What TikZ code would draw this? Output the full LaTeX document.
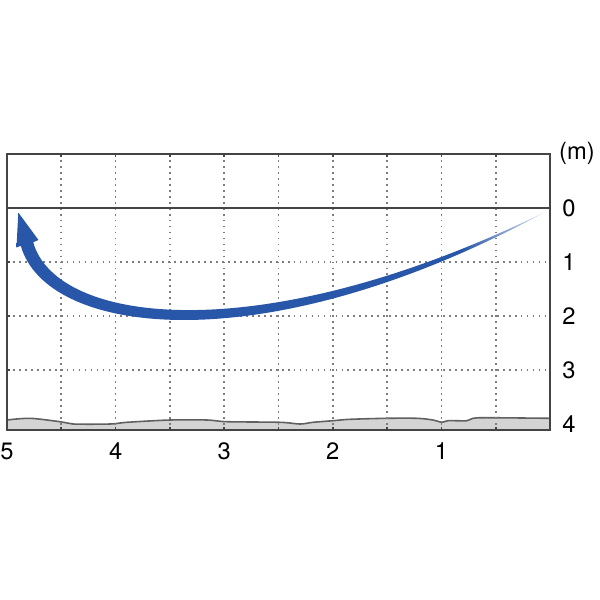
\documentclass[tikz,border=0pt]{standalone}
\usepackage{fontspec}
\setmainfont{TeX Gyre Heros}
\definecolor{ArrowBlue}{RGB}{40,86,168}
\definecolor{GroundGray}{RGB}{212,212,212}
\definecolor{FrameGray}{RGB}{68,68,68}
\definecolor{GridGray}{RGB}{125,125,125}
\pgfdeclarehorizontalshading{TailFade}{100bp}{color(0bp)=(ArrowBlue); color(67bp)=(ArrowBlue); color(75bp)=(ArrowBlue!12); color(100bp)=(ArrowBlue!12)}

\begin{document}
\begin{tikzpicture}[x=0.02cm,y=-0.02cm,
  gridline/.style={GridGray,line width=1pt,dash pattern=on 1pt off 2.4pt},
  scalelabel/.style={font=\fontsize{13.5}{16}\selectfont,inner sep=0pt}]
  \useasboundingbox (0,0) rectangle (600,600);
  % sea bed
  \fill[GroundGray] (7,430) -- plot[smooth] coordinates {(7,420) (30,418.3) (60,421.7) (73,424) (110,424) (127,422.3) (170,420) (207,420) (227,421.7) (280,422.3) (300,424) (313,422.3) (333,420.7) (350,419.3) (387,418.3) (417,418.3) (433,420) (442,422.3) (448,420.7) (467,420.7) (473,418.3) (487,417.7) (550,418.3)} -- (550,430) -- cycle;
  \draw[FrameGray!85,line width=0.9pt] plot[smooth] coordinates {(7,420) (30,418.3) (60,421.7) (73,424) (110,424) (127,422.3) (170,420) (207,420) (227,421.7) (280,422.3) (300,424) (313,422.3) (333,420.7) (350,419.3) (387,418.3) (417,418.3) (433,420) (442,422.3) (448,420.7) (467,420.7) (473,418.3) (487,417.7) (550,418.3)};
  % grid
  \foreach \k in {1,...,9} {
    \draw[gridline] ({7+54.3*\k},154) -- ({7+54.3*\k},430);
    \draw[FrameGray,line width=1pt] ({7+54.3*\k},154) -- ++(0,3);
    \draw[FrameGray,line width=1pt] ({7+54.3*\k},430) -- ++(0,-3);
  }
  \foreach \y in {262,316,370} {
    \draw[gridline] (7,\y) -- (550,\y);
    \draw[FrameGray,line width=1pt] (7,\y) -- ++(3,0);
  }
  \draw[FrameGray,line width=0.6pt] (7,208) -- (550,208);
  \draw[FrameGray,line width=1.1pt] (7,154) rectangle (550,430);
  % path of the throw, thin at the tail
  \shade[shading=TailFade] (547,211) .. controls (261.8,351.1) and (56.2,324.7) .. (33.2,242.2)
    -- (38.5,240) -- (18.3,212.5) -- (16.5,247.5) -- (20.8,245.8)
    .. controls (46.4,336.1) and (264.2,364.9) .. (547,211) -- cycle;
  % labels
  \node[scalelabel] (unit) at (577,153) {(m)};
  \foreach \d/\y in {0/208,1/262,2/316,3/370,4/424}
    \node[scalelabel] (depth\d) at (569,\y) {\d};
  \foreach \d in {1,...,5}
    \node[scalelabel] (dist\d) at ({550-108.6*\d},451) {\d};
\end{tikzpicture}
\end{document}
